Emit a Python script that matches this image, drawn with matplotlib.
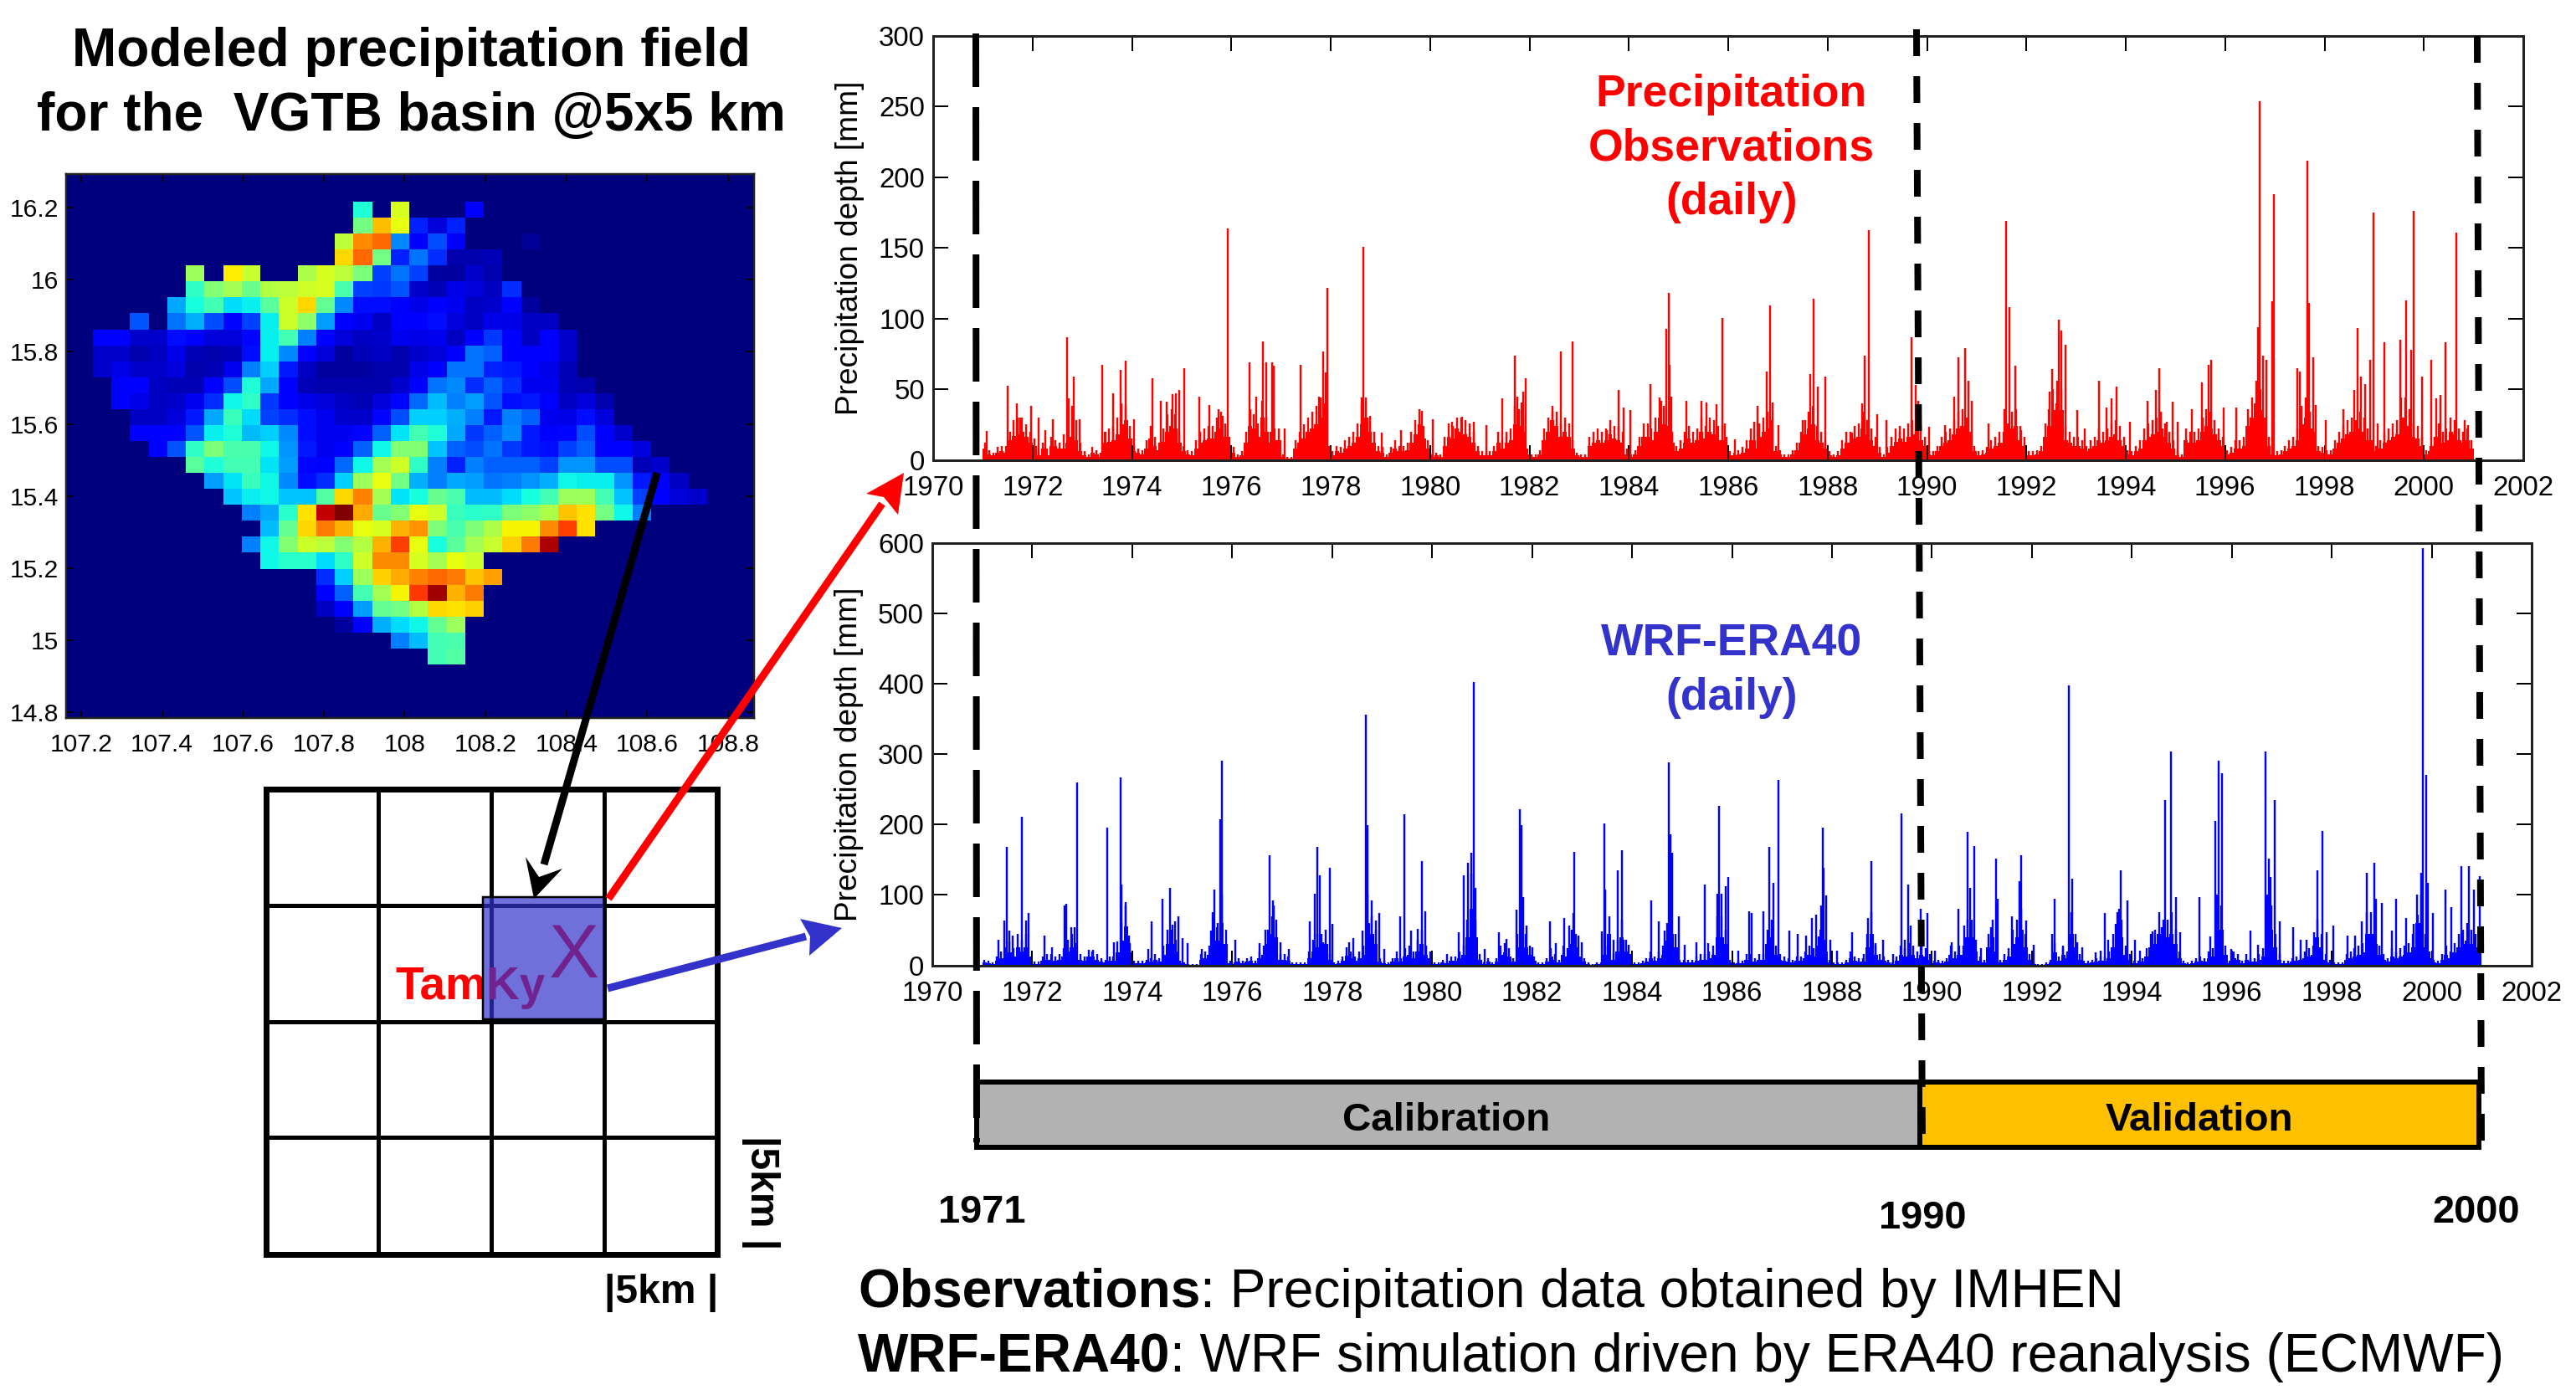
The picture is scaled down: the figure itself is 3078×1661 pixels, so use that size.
import matplotlib
matplotlib.use("Agg")
import matplotlib.pyplot as plt
import numpy as np
from matplotlib.patches import Polygon, Rectangle

plt.rcParams['font.family'] = ['Liberation Sans', 'DejaVu Sans']

W, H = 3078, 1661

# ---- map: values read per cell (0-100 on the jet scale), row by row from the north
map_start = [14, 14, 13, 13, 5, 5, 4, 2, 0, 0, 0, 1, 1, 2, 2, 3, 5, 6, 7, 8, 9, 8, 9, 12, 12, 12, 13, 16, 18]
map_rows = [
    [39, 0, 61, 0, 0, 0, 11],
    [49, 71, 63, 16, 8, 16],
    [58, 76, 80, 26, 12, 20, 12, 0, 0, 0, 2],
    [68, 80, 49, 16, 24, 17, 4, 4, 5],
    [54, 0, 66, 59, 0, 0, 56, 61, 58, 50, 19, 24, 19, 3, 3, 7, 4],
    [41, 51, 55, 48, 57, 58, 60, 61, 44, 19, 18, 21, 7, 5, 9, 8, 6, 17],
    [29, 38, 43, 34, 36, 46, 60, 68, 47, 26, 14, 14, 11, 9, 11, 10, 6, 7, 11, 3],
    [21, 0, 24, 30, 20, 13, 19, 36, 60, 52, 28, 12, 10, 6, 12, 12, 14, 8, 6, 9, 9, 6, 6],
    [11, 11, 7, 7, 14, 12, 8, 8, 13, 36, 43, 25, 11, 8, 6, 7, 10, 9, 10, 6, 11, 18, 12, 6, 11, 7],
    [7, 7, 4, 6, 9, 5, 4, 5, 14, 36, 26, 11, 8, 3, 5, 6, 4, 7, 8, 11, 24, 22, 12, 12, 11, 7],
    [7, 9, 7, 7, 8, 4, 5, 10, 25, 33, 15, 6, 3, 3, 3, 4, 4, 9, 11, 24, 24, 16, 15, 11, 9, 5],
    [12, 12, 6, 5, 5, 11, 20, 39, 29, 11, 5, 4, 4, 4, 4, 7, 12, 24, 26, 17, 22, 17, 10, 10, 5, 4],
    [12, 9, 6, 7, 10, 17, 37, 41, 18, 11, 9, 8, 6, 5, 8, 13, 23, 31, 25, 28, 21, 14, 15, 11, 6, 8, 4],
    [6, 6, 8, 15, 29, 42, 34, 19, 17, 14, 10, 7, 7, 13, 20, 33, 33, 30, 25, 15, 25, 22, 10, 9, 14, 8],
    [11, 11, 12, 21, 36, 39, 31, 33, 26, 14, 10, 10, 13, 22, 35, 43, 39, 29, 18, 22, 26, 15, 12, 13, 20, 11, 7],
    [11, 21, 41, 50, 44, 44, 37, 27, 15, 10, 12, 22, 37, 51, 51, 32, 22, 20, 24, 18, 15, 14, 19, 22, 11, 11, 8],
    [46, 39, 43, 43, 35, 28, 13, 12, 23, 37, 55, 60, 41, 25, 16, 25, 22, 22, 22, 19, 27, 27, 20, 20, 5, 7],
    [28, 35, 42, 37, 26, 14, 17, 33, 54, 63, 49, 30, 25, 29, 28, 24, 25, 27, 30, 37, 36, 36, 27, 15, 11, 6],
    [32, 36, 37, 32, 32, 45, 68, 77, 55, 35, 38, 48, 44, 31, 31, 34, 38, 43, 54, 54, 43, 32, 19, 11, 8, 7],
    [25, 29, 40, 67, 94, 100, 73, 48, 51, 63, 60, 42, 40, 41, 50, 52, 56, 70, 67, 49, 37, 25],
    [31, 47, 68, 78, 72, 63, 61, 72, 75, 50, 44, 50, 56, 65, 65, 76, 84, 67],
    [25, 37, 51, 60, 58, 51, 57, 72, 84, 63, 38, 46, 55, 59, 69, 78, 96],
    [37, 40, 40, 34, 41, 60, 76, 76, 61, 55, 63, 60],
    [17, 33, 54, 69, 73, 77, 80, 78, 70, 74],
    [11, 22, 43, 55, 65, 85, 97, 72, 78],
    [6, 11, 28, 47, 49, 57, 68, 67, 69],
    [3, 11, 30, 34, 37, 47, 54],
    [25, 31, 43, 44],
    [43, 45],
]
map_lon_ticks = [107.2, 107.4, 107.6, 107.8, 108, 108.2, 108.4, 108.6, 108.8]
map_lon_labels = ['107.2', '107.4', '107.6', '107.8', '108', '108.2', '108.4', '108.6', '108.8']
map_lat_ticks = [14.8, 15, 15.2, 15.4, 15.6, 15.8, 16, 16.2]
map_lat_labels = ['14.8', '15', '15.2', '15.4', '15.6', '15.8', '16', '16.2']

# ---- daily spikes (year, mm)
obs_peak_year = [1971.07, 1971.5, 1971.68, 1971.75, 1971.97, 1972.12, 1972.25, 1972.4, 1972.69, 1972.72, 1972.83, 1972.94,
    1973.4, 1973.47, 1973.62, 1973.78, 1973.87, 1974.05, 1974.41, 1974.58, 1974.7, 1974.82, 1974.88, 1974.95, 1975.05,
    1975.35, 1975.55, 1975.74, 1975.82, 1975.92, 1976.37, 1976.5, 1976.64, 1976.7, 1976.82, 1976.85, 1977.08, 1977.4,
    1977.76, 1977.85, 1977.9, 1977.93, 1978.63, 1978.66, 1978.79, 1979.03, 1979.41, 1979.83, 1980.05, 1980.45, 1980.64,
    1980.88, 1981.13, 1981.45, 1981.7, 1981.75, 1981.84, 1981.88, 1981.93, 1982.46, 1982.63, 1982.86, 1983.55, 1983.8,
    1983.9, 1984.03, 1984.43, 1984.65, 1984.76, 1984.8, 1984.82, 1984.85, 1985.16,
    1985.46, 1985.56, 1985.76, 1985.88, 1985.94, 1986.14, 1986.52, 1986.59, 1986.78, 1986.84, 1986.89, 1987.01, 1987.5,
    1987.65, 1987.71, 1987.81, 1987.96, 1988.5, 1988.69, 1988.75, 1988.83, 1989.0, 1989.19, 1989.46, 1989.69, 1989.77,
    1989.83, 1990.04, 1990.37, 1990.55, 1990.63, 1990.76, 1990.83, 1990.9, 1991.23, 1991.55, 1991.59, 1991.66, 1991.77,
    1991.89, 1992.46, 1992.52, 1992.66, 1992.71, 1992.78, 1993.02, 1993.17, 1993.46, 1993.62, 1993.71, 1993.82, 1994.09,
    1994.44, 1994.6, 1994.68, 1994.83, 1994.94, 1995.04, 1995.33, 1995.53, 1995.66, 1995.72, 1995.97, 1996.23, 1996.54,
    1996.66, 1996.69, 1996.76, 1996.83, 1996.95, 1996.98, 1997.45, 1997.5, 1997.66, 1997.69, 1997.77, 1997.82, 1998.03,
    1998.38, 1998.59, 1998.66, 1998.74, 1998.81, 1998.92, 1998.99, 1999.07, 1999.21, 1999.53, 1999.64, 1999.74, 1999.79,
    1999.97, 2000.15, 2000.25, 2000.33, 2000.43, 2000.65, 2000.82, 2000.89]
obs_peak_mm = [20.6, 52.6, 40, 30, 38, 30, 21, 28.5, 86.5, 43.5, 58.7, 28.5,
    67.5, 20, 47, 63.7, 70, 29, 57.5, 41.7, 41, 46.7, 47, 49.6, 65,
    45, 38.5, 36, 30.8, 163.8, 69, 45, 84, 69, 69, 66.6, 22, 67.5,
    45, 76.6, 61.6, 122, 44, 151, 31, 19.5, 21, 34.4, 29, 27, 30.4,
    27, 24.7, 43.5, 74, 45, 40.6, 48.5, 57.5, 34.4, 76.6, 84, 21, 49.6,
    37, 35, 53.5, 42, 92.7, 118.3, 67, 45, 42,
    41.7, 40.6, 39.4, 100.6, 26, 14.5, 27, 38, 62.5, 109, 40.6, 24.7, 28,
    61, 114, 52, 58.7, 19, 40, 74, 162.7, 32, 28, 20, 86.6, 53,
    42, 23.6, 24.7, 45, 72.7, 79, 56, 42, 26, 36, 169, 108, 66.6,
    21, 48.5, 64, 99.5, 91.5, 81.6, 35, 22, 56, 37, 43.5, 52, 27,
    42, 49.6, 65, 27, 41, 27, 36, 55, 67.5, 71, 37, 37, 30,
    94, 253.6, 74, 71, 112, 188, 65, 62.5, 212, 111, 72.7, 39, 28,
    36, 49.6, 93, 58.7, 53.5, 71, 175, 26, 83, 85, 113, 78, 176.5,
    58.7, 71, 43.5, 46, 83, 161, 28, 24.7]

wrf_peak_year = [1971.32, 1971.44, 1971.49, 1971.54, 1971.61, 1971.79, 1971.87, 1971.92, 1972.24, 1972.39, 1972.65, 1972.68,
    1972.78, 1972.84, 1972.9, 1973.19, 1973.5, 1973.64, 1973.76, 1973.78, 1973.86, 1973.93, 1974.32, 1974.39, 1974.6,
    1974.75, 1974.8, 1974.86, 1974.93, 1975.0, 1975.11, 1975.4, 1975.57, 1975.61, 1975.64, 1975.69, 1975.76, 1975.79,
    1976.07, 1976.54, 1976.67, 1976.75, 1976.81, 1976.84, 1976.96, 1977.14, 1977.55, 1977.65, 1977.71, 1977.75, 1977.82,
    1977.96, 1978.0, 1978.34, 1978.43, 1978.61, 1978.68, 1978.7, 1978.79, 1978.87, 1978.94, 1979.04, 1979.36, 1979.44,
    1979.57, 1979.72, 1979.8, 1979.87, 1980.29, 1980.54, 1980.64, 1980.72, 1980.79, 1980.83, 1980.86, 1981.05, 1981.34,
    1981.48, 1981.69, 1981.75, 1981.79, 1981.82, 1981.89, 1982.01, 1982.35, 1982.47, 1982.65, 1982.75, 1982.83, 1982.85,
    1982.92, 1983.0, 1983.4, 1983.44, 1983.46, 1983.63, 1983.72, 1983.79, 1983.83, 1983.94, 1984.39, 1984.54, 1984.65,
    1984.74, 1984.77, 1984.81, 1984.93, 1985.05, 1985.29, 1985.45, 1985.53, 1985.7, 1985.74, 1985.79, 1985.87, 1985.92,
    1986.12, 1986.34, 1986.39, 1986.62, 1986.75, 1986.83, 1986.93, 1987.14, 1987.32, 1987.49, 1987.6, 1987.68, 1987.74,
    1987.81, 1987.84, 1987.89, 1987.96, 1988.1, 1988.4, 1988.63, 1988.72, 1988.78, 1988.88, 1989.03, 1989.22, 1989.39,
    1989.45, 1989.53, 1989.58, 1989.77, 1989.91, 1990.06, 1990.39, 1990.53, 1990.64, 1990.71, 1990.77, 1990.85, 1990.99,
    1991.18, 1991.28, 1991.31, 1991.6, 1991.75, 1991.78, 1991.89, 1992.03, 1992.41, 1992.45, 1992.63, 1992.74, 1992.81,
    1992.91, 1993.01, 1993.27, 1993.38, 1993.46, 1993.53, 1993.68, 1993.75, 1993.78, 1993.92, 1994.06, 1994.16, 1994.42,
    1994.6, 1994.67, 1994.78, 1994.89, 1994.96, 1995.35, 1995.57, 1995.67, 1995.74, 1995.81, 1995.99, 1996.38, 1996.52,
    1996.67, 1996.75, 1996.78, 1996.86, 1996.96, 1997.22, 1997.38, 1997.5, 1997.64, 1997.72, 1997.82, 1997.89, 1998.03,
    1998.31, 1998.46, 1998.6, 1998.7, 1998.85, 1998.89, 1999.0, 1999.21, 1999.29, 1999.49, 1999.64, 1999.73, 1999.79,
    1999.82, 1999.89, 1999.93, 2000.03, 2000.28, 2000.39, 2000.59, 2000.74, 2000.85, 2000.96]
wrf_peak_mm = [36, 64, 168.6, 49, 42, 211, 64, 74.5, 42, 26, 85, 87,
    54, 54.5, 260, 20, 196, 33, 267, 115, 84.5, 42, 23, 62, 94.5,
    110, 58, 62, 69.5, 39, 31, 23, 49, 76, 107, 54, 207, 290,
    36, 31, 51, 156, 92, 85, 33, 23, 62, 102, 168.6, 128, 33,
    138, 59, 33, 39, 49, 356, 199, 92, 64, 74.5, 23, 69.5, 214.5,
    49, 52, 148, 77, 16, 47, 128, 146, 160, 402, 110, 23, 47,
    38, 79.5, 222, 199, 97, 56, 26, 62, 31, 67, 57, 74, 161,
    42, 33, 48, 201, 107, 36, 135, 163, 36, 29, 92, 62, 49,
    288, 186, 160, 69.5, 29, 33, 115, 31, 102, 226, 102, 112, 125,
    21, 77, 74, 77, 168.6, 117, 263, 49, 44, 42, 67, 72, 41,
    196, 138, 99, 36, 21, 47, 16, 67, 148, 31, 36, 16, 216,
    36, 115, 57, 80, 74, 21, 33, 80, 57, 189, 110, 169, 24,
    54, 151, 94, 69.5, 120, 156, 64, 29, 44, 94, 26, 397, 123,
    33, 26, 18, 21, 74.5, 36, 59, 80, 135, 92, 36, 21, 48,
    54, 234.5, 303, 97, 47, 97, 41, 204.5, 290, 273, 23, 49, 29,
    303, 151, 125, 234.5, 62, 54, 36, 36, 47, 135, 191, 47, 57,
    42, 42, 62, 131, 146, 94, 88, 49, 94, 67, 59, 72, 131,
    592, 270, 117, 74.5, 107, 82, 141, 141, 107, 127]

# ---- solid floor under the spikes, one value per month, Jan 1971 - Dec 2000
obs_monthly = [
    8, 4, 3, 5, 6, 5, 14, 17, 18, 20, 16, 12,
    10, 3, 8, 3, 10, 10, 8, 8, 12, 16, 14, 6,
    3, 2, 5, 4, 2, 12, 13, 14, 18, 25, 28, 15,
    6, 5, 4, 8, 15, 10, 7, 13, 20, 24, 22, 12,
    6, 4, 3, 8, 12, 14, 15, 15, 20, 22, 16, 10,
    5, 2, 3, 12, 24, 22, 16, 30, 20, 12, 14, 14,
    2, 1, 1, 8, 12, 15, 20, 22, 25, 30, 28, 6,
    3, 6, 5, 8, 10, 12, 16, 25, 30, 20, 12, 6,
    5, 2, 5, 8, 6, 6, 7, 12, 18, 25, 15, 8,
    2, 3, 2, 10, 16, 15, 22, 20, 18, 16, 12, 6,
    3, 3, 3, 6, 12, 8, 12, 14, 25, 24, 20, 4,
    2, 2, 4, 14, 20, 28, 24, 16, 20, 16, 8, 3,
    2, 2, 10, 12, 14, 12, 14, 18, 15, 14, 12, 4,
    2, 4, 10, 16, 16, 14, 20, 30, 25, 14, 12, 6,
    8, 12, 15, 12, 14, 20, 15, 20, 18, 14, 14, 10,
    3, 3, 4, 5, 8, 14, 8, 16, 20, 22, 18, 6,
    4, 2, 2, 4, 7, 12, 18, 22, 25, 14, 12, 8,
    3, 2, 3, 8, 12, 12, 15, 16, 22, 18, 14, 10,
    5, 2, 5, 10, 13, 15, 13, 16, 18, 22, 14, 10,
    4, 3, 6, 10, 12, 14, 18, 22, 24, 20, 12, 6,
    3, 4, 5, 8, 10, 12, 12, 16, 22, 24, 14, 10,
    3, 3, 4, 6, 16, 24, 35, 40, 35, 14, 12, 10,
    10, 8, 6, 8, 10, 14, 12, 14, 16, 18, 14, 10,
    4, 3, 6, 8, 14, 16, 18, 20, 22, 16, 12, 8,
    3, 2, 14, 12, 12, 14, 20, 24, 22, 18, 14, 10,
    4, 5, 8, 8, 10, 24, 30, 40, 35, 20, 10, 4,
    3, 4, 6, 8, 10, 14, 25, 30, 22, 12, 6, 5,
    4, 4, 8, 12, 15, 18, 20, 18, 22, 20, 14, 8,
    6, 8, 12, 14, 16, 18, 30, 30, 24, 16, 15, 10,
    4, 6, 10, 16, 12, 14, 20, 18, 14, 12, 14, 8,
]
wrf_monthly = [
    4, 3, 2, 6, 10, 14, 18, 12, 25, 20, 25, 6,
    2, 2, 6, 8, 8, 6, 8, 12, 20, 25, 18, 8,
    6, 12, 12, 8, 5, 4, 6, 6, 18, 35, 55, 18,
    3, 3, 3, 4, 5, 8, 5, 15, 30, 30, 20, 3,
    2, 1, 1, 1, 8, 10, 15, 20, 35, 60, 30, 3,
    2, 5, 3, 5, 6, 3, 10, 15, 30, 45, 40, 8,
    8, 6, 2, 2, 2, 2, 10, 20, 25, 25, 30, 8,
    2, 3, 6, 14, 10, 6, 10, 15, 60, 45, 30, 5,
    3, 2, 5, 10, 5, 12, 15, 10, 20, 30, 15, 10,
    2, 2, 4, 3, 6, 6, 10, 15, 40, 80, 40, 8,
    2, 5, 2, 5, 15, 18, 12, 5, 25, 55, 25, 15,
    6, 2, 2, 5, 12, 8, 4, 15, 12, 30, 25, 6,
    5, 2, 1, 2, 2, 15, 45, 8, 20, 40, 20, 8,
    2, 2, 3, 5, 10, 6, 10, 15, 35, 45, 25, 4,
    4, 4, 4, 6, 8, 8, 10, 15, 40, 40, 30, 4,
    2, 3, 3, 8, 8, 5, 8, 8, 30, 40, 15, 8,
    6, 5, 4, 6, 6, 10, 15, 12, 15, 50, 20, 4,
    2, 2, 2, 4, 10, 6, 5, 5, 25, 45, 15, 8,
    6, 4, 2, 6, 15, 12, 18, 15, 10, 15, 12, 8,
    3, 4, 3, 5, 15, 10, 15, 15, 40, 40, 20, 6,
    4, 25, 40, 20, 4, 8, 12, 30, 40, 50, 25, 8,
    2, 1, 1, 2, 4, 18, 6, 15, 10, 45, 25, 8,
    3, 3, 4, 5, 6, 6, 10, 25, 45, 40, 15, 8,
    3, 3, 5, 12, 25, 30, 45, 40, 40, 45, 30, 10,
    3, 2, 3, 5, 6, 5, 10, 12, 60, 50, 15, 3,
    10, 8, 3, 8, 5, 5, 8, 12, 60, 50, 25, 8,
    3, 3, 5, 6, 8, 10, 12, 15, 40, 25, 8, 4,
    2, 2, 2, 8, 10, 12, 15, 18, 45, 45, 30, 15,
    8, 5, 12, 10, 12, 15, 18, 25, 60, 60, 25, 10,
    4, 3, 8, 15, 10, 18, 25, 30, 35, 30, 25, 30,
]
# upper edge of the comb of small spikes, one value per month
obs_comb = [
    12, 7, 5, 9, 10, 10, 20, 28, 30, 30, 25, 20,
    15, 6, 12, 8, 16, 14, 12, 18, 20, 38, 28, 12,
    6, 4, 9, 7, 5, 20, 22, 24, 30, 40, 38, 24,
    10, 8, 7, 14, 24, 16, 12, 22, 32, 36, 32, 20,
    10, 7, 6, 14, 20, 22, 24, 24, 30, 34, 26, 16,
    9, 4, 6, 20, 36, 32, 26, 42, 30, 20, 22, 22,
    4, 2, 2, 14, 20, 25, 30, 34, 38, 44, 40, 10,
    6, 10, 9, 14, 16, 20, 26, 38, 44, 30, 20, 10,
    9, 4, 9, 14, 10, 10, 12, 20, 28, 36, 24, 14,
    4, 5, 4, 16, 26, 24, 30, 30, 28, 26, 20, 10,
    6, 5, 6, 10, 20, 14, 20, 22, 38, 36, 30, 8,
    4, 4, 7, 22, 30, 38, 34, 26, 30, 26, 14, 5,
    4, 4, 16, 20, 22, 20, 22, 28, 24, 24, 20, 8,
    4, 7, 16, 26, 26, 22, 30, 44, 38, 24, 20, 10,
    14, 20, 24, 20, 22, 30, 24, 30, 28, 24, 24, 16,
    6, 5, 7, 9, 14, 22, 14, 26, 30, 34, 28, 10,
    7, 4, 4, 7, 12, 20, 28, 34, 38, 24, 20, 14,
    6, 4, 6, 14, 20, 20, 24, 26, 34, 28, 22, 16,
    9, 4, 9, 16, 22, 24, 22, 26, 28, 34, 24, 16,
    7, 6, 10, 16, 20, 22, 28, 34, 36, 30, 20, 10,
    6, 7, 9, 14, 16, 20, 20, 26, 34, 36, 24, 16,
    6, 6, 7, 10, 26, 36, 50, 56, 50, 24, 20, 16,
    16, 14, 10, 14, 16, 22, 20, 22, 26, 28, 24, 16,
    7, 6, 10, 14, 22, 26, 28, 30, 34, 26, 20, 14,
    6, 4, 22, 20, 20, 22, 30, 36, 34, 28, 22, 16,
    7, 9, 14, 14, 16, 36, 44, 56, 50, 30, 16, 7,
    6, 7, 10, 14, 16, 22, 38, 44, 34, 20, 10, 9,
    7, 7, 14, 20, 24, 28, 30, 28, 34, 30, 22, 14,
    10, 14, 20, 22, 26, 28, 44, 44, 36, 26, 24, 16,
    7, 10, 16, 26, 20, 22, 30, 28, 22, 20, 22, 14,
]
wrf_comb = [
    8, 6, 4, 12, 20, 26, 34, 24, 44, 36, 44, 12,
    5, 5, 12, 16, 16, 12, 16, 24, 36, 44, 32, 16,
    12, 22, 22, 16, 10, 8, 12, 12, 34, 60, 90, 32,
    6, 6, 6, 8, 10, 16, 10, 28, 50, 50, 36, 6,
    4, 2, 2, 2, 16, 20, 28, 36, 60, 100, 50, 6,
    4, 10, 6, 10, 12, 6, 20, 28, 50, 70, 65, 16,
    16, 12, 4, 4, 4, 4, 20, 36, 44, 44, 50, 16,
    4, 6, 12, 26, 20, 12, 20, 28, 100, 70, 50, 10,
    6, 4, 10, 20, 10, 24, 28, 20, 36, 50, 28, 20,
    4, 4, 8, 6, 12, 12, 20, 28, 65, 130, 65, 16,
    4, 10, 4, 10, 28, 32, 24, 10, 44, 90, 44, 28,
    12, 4, 4, 10, 24, 16, 8, 28, 24, 50, 44, 12,
    10, 4, 2, 4, 4, 28, 70, 16, 36, 65, 36, 16,
    4, 4, 6, 10, 20, 12, 20, 28, 60, 75, 44, 8,
    8, 8, 8, 12, 16, 16, 20, 28, 70, 70, 50, 8,
    4, 6, 6, 16, 16, 10, 16, 16, 50, 65, 28, 16,
    12, 10, 8, 12, 12, 20, 28, 24, 28, 85, 36, 8,
    4, 4, 4, 8, 20, 12, 10, 10, 44, 75, 28, 16,
    12, 8, 4, 12, 28, 24, 32, 28, 20, 28, 24, 16,
    6, 8, 6, 10, 28, 20, 28, 28, 65, 65, 36, 12,
    8, 44, 65, 36, 8, 16, 24, 50, 65, 80, 44, 16,
    4, 2, 2, 4, 8, 32, 12, 28, 20, 75, 44, 16,
    6, 6, 8, 10, 12, 12, 20, 44, 75, 65, 28, 16,
    6, 6, 10, 24, 44, 50, 75, 65, 65, 75, 50, 20,
    6, 4, 6, 10, 12, 10, 20, 24, 100, 85, 28, 6,
    20, 16, 6, 16, 10, 10, 16, 24, 100, 85, 44, 16,
    6, 6, 10, 12, 16, 20, 24, 28, 65, 44, 16, 8,
    4, 4, 4, 16, 20, 24, 28, 32, 75, 75, 50, 28,
    16, 10, 24, 20, 24, 28, 32, 44, 100, 100, 44, 20,
    8, 6, 16, 28, 20, 32, 44, 50, 60, 50, 44, 50,
]
year_ticks = list(range(1970, 2003, 2))
obs_ticks = [0, 50, 100, 150, 200, 250, 300]
wrf_ticks = [0, 100, 200, 300, 400, 500, 600]

RED = '#FF0000'
BLUE = '#3333CC'


def pt(px):
    return px * 0.72


def box(x0, y0, x1, y1):
    return [x0 / W, 1 - y1 / H, (x1 - x0) / W, (y1 - y0) / H]


fig = plt.figure(figsize=(W / 100, H / 100), dpi=100, facecolor='white')

# map
grid = np.zeros((29, 33))
for i, row in enumerate(map_rows):
    grid[i, map_start[i]:map_start[i] + len(row)] = row
ax_map = fig.add_axes(box(79, 208, 901, 858))
ax_map.imshow(grid, cmap='jet', vmin=0, vmax=100, aspect='auto', interpolation='nearest',
              extent=(107.229, 108.746, 14.932, 16.214))
ax_map.set_xlim(107.163, 108.864)
ax_map.set_ylim(14.784, 16.293)
ax_map.set_facecolor('#00007F')
ax_map.set_xticks(map_lon_ticks, map_lon_labels)
ax_map.set_yticks(map_lat_ticks, map_lat_labels)
ax_map.tick_params(direction='in', top=True, right=True, length=pt(9), width=pt(2), labelsize=pt(30))
ax_map.tick_params(axis='x', pad=pt(18))
ax_map.tick_params(axis='y', pad=pt(9))
for s in ax_map.spines.values():
    s.set_linewidth(pt(2.5))
    s.set_color('#222222')


# the two daily panels
def panel(rect, monthly, comb, peak_year, peak_mm, color, ymax, yticks):
    ax = fig.add_axes(box(*rect))
    t = 1971 + np.arange(len(monthly)) / 12
    ax.bar(t, monthly, width=1 / 12, align='edge', color=color, linewidth=0)
    ax.vlines(t + 1 / 24, 0, comb, color=color, linewidth=pt(2.4))
    ax.vlines(peak_year, 0, peak_mm, color=color, linewidth=pt(2.4))
    ax.set_xlim(1970, 2002)
    ax.set_ylim(0, ymax)
    ax.set_xticks(year_ticks)
    ax.set_yticks(yticks)
    ax.tick_params(direction='in', top=True, right=True, length=pt(18), width=pt(2), labelsize=pt(33))
    ax.tick_params(axis='x', pad=pt(18))
    ax.tick_params(axis='y', pad=pt(10))
    ax.set_ylabel('Precipitation depth [mm]', fontsize=pt(37), labelpad=pt(17))
    for s in ax.spines.values():
        s.set_linewidth(pt(3))
        s.set_color('#222222')
    return ax


panel((1115, 43, 3015, 549.5), obs_monthly, obs_comb, obs_peak_year, obs_peak_mm, RED, 300, obs_ticks)
panel((1114, 648.5, 3025, 1153.5), wrf_monthly, wrf_comb, wrf_peak_year, wrf_peak_mm, '#0000FF', 600, wrf_ticks)

# everything else is drawn on a full figure layer in pixels
ov = fig.add_axes([0, 0, 1, 1], zorder=5)
ov.set_xlim(0, W)
ov.set_ylim(H, 0)
ov.axis('off')
ov.patch.set_alpha(0)

ov.text(491, 62, 'Modeled precipitation field', fontsize=pt(64), weight='bold', ha='center', va='center')
ov.text(491, 139, 'for the  VGTB basin @5x5 km', fontsize=pt(64), weight='bold', ha='center', va='center')

# 4x4 cell sketch
for x, lw in [(318, 7), (452, 5), (587, 5), (722, 5), (857, 7)]:
    ov.plot([x, x], [943, 1499], color='k', lw=pt(lw), solid_capstyle='projecting')
for y, lw in [(943, 7), (1082, 5), (1221, 5), (1359, 5), (1499, 7)]:
    ov.plot([318, 857], [y, y], color='k', lw=pt(lw), solid_capstyle='projecting')

ov.text(472, 1194, 'TamKy', color=RED, fontsize=pt(55), weight='bold', ha='left', va='baseline')
ov.text(686, 1145, 'X', color=RED, fontsize=pt(90), ha='center', va='center')
ov.add_patch(Rectangle((577, 1072), 145, 146, facecolor=BLUE, alpha=0.7, edgecolor='none', zorder=3))
ov.add_patch(Rectangle((577, 1072), 145, 146, facecolor='none', edgecolor='k', lw=pt(2.5), zorder=3))

ov.text(790, 1545, '|5km |', fontsize=pt(48), weight='bold', ha='center', va='center')
ov.text(909, 1425, '|5km |', fontsize=pt(48), weight='bold', ha='center', va='center', rotation=270)


# arrows with a notched head, as in the slide
def arrow(start, end, tip, barb1, notch, barb2, color):
    ov.plot([start[0], end[0]], [start[1], end[1]], color=color, lw=pt(9), solid_capstyle='butt', zorder=6)
    ov.add_patch(Polygon([tip, barb1, notch, barb2], closed=True, facecolor=color, edgecolor='none', zorder=6))


arrow((785, 565), (650, 1033), (638, 1074), (628, 1024), (644, 1048), (672, 1038), 'k')
arrow((727, 1074), (1054, 602), (1080, 565), (1035, 590), (1056, 594), (1073, 615), RED)
arrow((726, 1181), (963, 1119), (1006, 1109), (956, 1098), (968, 1119), (967, 1142), BLUE)

# period bars
ov.add_patch(Rectangle((1167, 1293), 1127, 78, facecolor='#B2B2B2', edgecolor='k', lw=pt(6), zorder=2))
ov.add_patch(Rectangle((2294, 1293), 668, 78, facecolor='#FFC000', edgecolor='k', lw=pt(6), zorder=2))
ov.text(1728, 1339, 'Calibration', fontsize=pt(47.5), weight='bold', ha='center', va='center', zorder=3)
ov.text(2628, 1339, 'Validation', fontsize=pt(47.5), weight='bold', ha='center', va='center', zorder=3)

# dashed period lines
for xs, ys, dash in [((1166, 1167), (40, 1365), (64, 24)),
                     ((2290, 2297), (35, 1372), (32, 24)),
                     ((2960, 2965), (43, 1365), (32, 24))]:
    ov.plot(xs, ys, color='k', lw=pt(8), dash_capstyle='butt',
            linestyle=(0, (dash[0] / 8, dash[1] / 8)), zorder=4)

for x, y, s in [(1173, 1449, '1971'), (2297, 1456, '1990'), (2959, 1449, '2000')]:
    ov.text(x, y, s, fontsize=pt(47), weight='bold', ha='center', va='center')

ov.text(2069, 113, 'Precipitation', color=RED, fontsize=pt(53.5), weight='bold', ha='center', va='center')
ov.text(2069, 178, 'Observations', color=RED, fontsize=pt(53.5), weight='bold', ha='center', va='center')
ov.text(2069, 242, '(daily)', color=RED, fontsize=pt(53.5), weight='bold', ha='center', va='center')
ov.text(2069, 770, 'WRF-ERA40', color=BLUE, fontsize=pt(53.5), weight='bold', ha='center', va='center')
ov.text(2069, 834, '(daily)', color=BLUE, fontsize=pt(53.5), weight='bold', ha='center', va='center')

# footnotes, bold head then plain tail on one baseline
renderer = fig.canvas.get_renderer()
for y, head, tail in [(1562, 'Observations', ': Precipitation data obtained by IMHEN'),
                      (1639, 'WRF-ERA40', ': WRF simulation driven by ERA40 reanalysis (ECMWF)')]:
    t = ov.text(1025, y, head, fontsize=pt(64), weight='bold', ha='left', va='baseline')
    x1 = t.get_window_extent(renderer).x1
    ov.text(x1, y, tail, fontsize=pt(64), ha='left', va='baseline')

fig.savefig('out.png', dpi=100)
